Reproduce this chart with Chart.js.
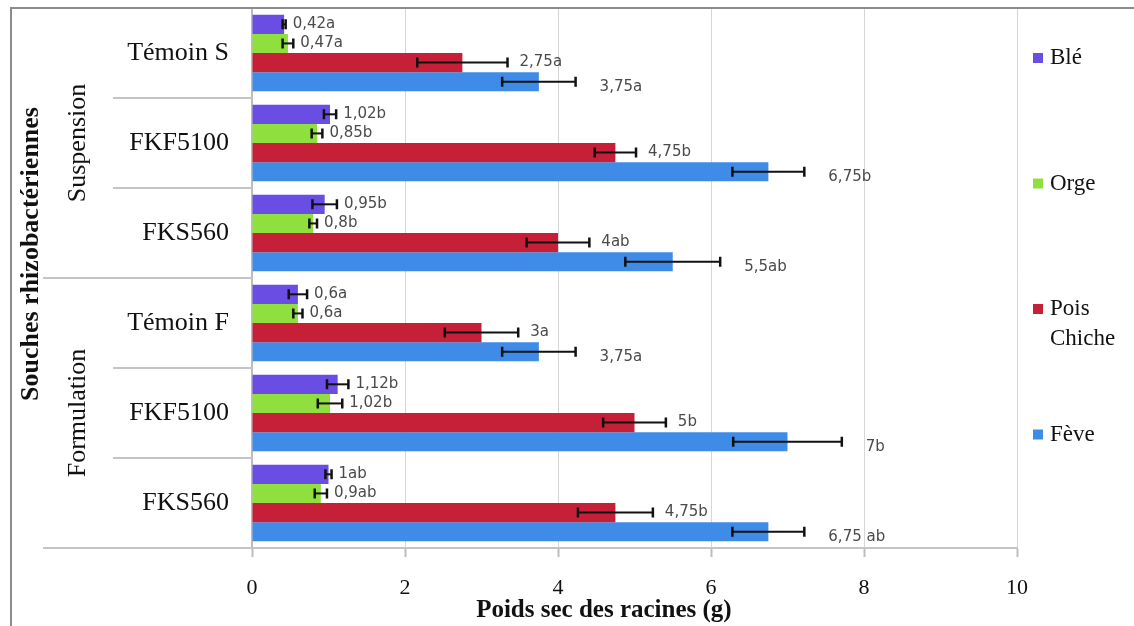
<!DOCTYPE html>
<html lang="fr">
<head>
<meta charset="utf-8">
<title>Poids sec des racines</title>
<script src="https://cdn.jsdelivr.net/npm/chart.js@4.4.1/dist/chart.umd.min.js"></script>
<style>
  html, body { margin: 0; padding: 0; background: #ffffff; }
  #wrap { width: 1134px; height: 626px; position: relative; }
</style>
</head>
<body>
<div id="wrap"><canvas id="chart" width="1134" height="626"></canvas></div>
<script>
// Souches (du haut vers le bas) et leur mode d'application
const categories = ['Témoin S', 'FKF5100', 'FKS560', 'Témoin F', 'FKF5100', 'FKS560'];
const groupNames = ['Suspension', 'Formulation'];
const groupSizes = [3, 3];
const seriesNames = ['Blé', 'Orge', 'Pois Chiche', 'Fève'];

// Poids sec moyen des racines (g)
const ble        = [0.42, 1.02, 0.95, 0.6, 1.12, 1];
const orge       = [0.47, 0.85, 0.8, 0.6, 1.02, 0.9];
const poisChiche = [2.75, 4.75, 4, 3, 5, 4.75];
const feve       = [3.75, 6.75, 5.5, 3.75, 7, 6.75];

// Écarts-types
const bleErr  = [0.02, 0.08, 0.16, 0.12, 0.14, 0.04];
const orgeErr = [0.07, 0.07, 0.05, 0.06, 0.16, 0.08];
const poisErr = [0.59, 0.27, 0.41, 0.48, 0.41, 0.49];
const feveErr = [0.48, 0.47, 0.62, 0.48, 0.71, 0.47];

// Groupes homogènes
const bleLetters  = ['a', 'b', 'b', 'a', 'b', 'ab'];
const orgeLetters = ['a', 'b', 'b', 'a', 'b', 'ab'];
const poisLetters = ['a', 'b', 'ab', 'a', 'b', 'b'];
const feveLetters = ['a', 'b', 'ab', 'a', 'b', ' ab'];

const xTicks = [0, 2, 4, 6, 8, 10];

const seriesValues  = [ble, orge, poisChiche, feve];
const seriesErrors  = [bleErr, orgeErr, poisErr, feveErr];
const seriesLetters = [bleLetters, orgeLetters, poisLetters, feveLetters];
const seriesColors  = ['#6a4ee4', '#8fe03e', '#c62039', '#3f8be8'];

const SERIF = "'Liberation Serif', 'DejaVu Serif', serif";
const SANS = "'DejaVu Sans', 'Liberation Sans', sans-serif";

const fmt = v => String(v).replace('.', ',');

// Cadre, séparateurs de l'axe des catégories et titres des axes
const framePlugin = {
  id: 'frame',
  afterDraw(chart) {
    const ctx = chart.ctx;
    const ca = chart.chartArea;
    const y = chart.scales.y;
    const x = chart.scales.x;
    ctx.save();

    // cadre extérieur
    ctx.strokeStyle = '#8c8c8c';
    ctx.lineWidth = 2;
    ctx.beginPath();
    ctx.moveTo(1134, 8);
    ctx.lineTo(11, 8);
    ctx.lineTo(11, 626);
    ctx.stroke();

    // séparateurs entre souches et entre groupes
    const half = (y.getPixelForValue(1) - y.getPixelForValue(0)) / 2;
    ctx.strokeStyle = '#c4c4c4';
    ctx.lineWidth = 2;
    let cum = 0;
    const groupEnds = groupSizes.map(n => (cum += n));
    for (let i = 1; i <= categories.length; i++) {
      const yy = Math.round(y.getPixelForValue(i - 1) + half);
      const isGroup = groupEnds.includes(i);
      ctx.beginPath();
      ctx.moveTo(isGroup ? 43 : 113, yy);
      ctx.lineTo(ca.left, yy);
      ctx.stroke();
    }

    // noms des groupes
    ctx.fillStyle = '#111';
    ctx.font = '26px ' + SERIF;
    ctx.textAlign = 'center';
    ctx.textBaseline = 'middle';
    let start = 0;
    groupNames.forEach((g, k) => {
      const end = start + groupSizes[k] - 1;
      const cy = (y.getPixelForValue(start) + y.getPixelForValue(end)) / 2;
      ctx.save();
      ctx.translate(78, cy);
      ctx.rotate(-Math.PI / 2);
      ctx.fillText(g, 0, 0);
      ctx.restore();
      start += groupSizes[k];
    });

    // titre de l'axe vertical
    ctx.save();
    ctx.font = 'bold 26px ' + SERIF;
    ctx.translate(31, (ca.top + ca.bottom) / 2 - 24);
    ctx.rotate(-Math.PI / 2);
    ctx.fillText('Souches rhizobactériennes', 0, 0);
    ctx.restore();

    // titre de l'axe horizontal
    ctx.font = 'bold 25px ' + SERIF;
    ctx.fillText('Poids sec des racines (g)', x.getPixelForValue(4.6), 611);

    ctx.restore();
  }
};

// Barres d'erreur et étiquettes de valeurs
const errorPlugin = {
  id: 'errorBars',
  afterDatasetsDraw(chart) {
    const ctx = chart.ctx;
    const x = chart.scales.x;
    const gaps = [7, 7, 12, 24];
    const shifts = [0, 0, 0, 5];
    ctx.save();
    chart.data.datasets.forEach((ds, d) => {
      const meta = chart.getDatasetMeta(d);
      meta.data.forEach((bar, i) => {
        const v = ds.data[i];
        const e = seriesErrors[d][i];
        const x0 = x.getPixelForValue(v - e);
        const x1 = x.getPixelForValue(v + e);
        const yy = bar.y;
        ctx.strokeStyle = '#111';
        ctx.lineWidth = 2;
        ctx.beginPath();
        ctx.moveTo(x0, yy);
        ctx.lineTo(x1, yy);
        ctx.stroke();
        ctx.lineWidth = 2.5;
        ctx.beginPath();
        ctx.moveTo(x0, yy - 5);
        ctx.lineTo(x0, yy + 5);
        ctx.moveTo(x1, yy - 5);
        ctx.lineTo(x1, yy + 5);
        ctx.stroke();

        ctx.fillStyle = '#4a4a4a';
        ctx.font = '15px ' + SANS;
        ctx.textAlign = 'left';
        ctx.textBaseline = 'middle';
        ctx.fillText(fmt(v) + seriesLetters[d][i], x1 + gaps[d], yy + shifts[d]);
      });
    });
    ctx.restore();
  }
};

// Légende verticale à droite
const legendPlugin = {
  id: 'sideLegend',
  afterDraw(chart) {
    const ctx = chart.ctx;
    ctx.save();
    ctx.font = '23px ' + SERIF;
    ctx.textAlign = 'left';
    ctx.textBaseline = 'middle';
    seriesNames.forEach((name, k) => {
      const cy = 58 + k * 125.5;
      ctx.fillStyle = seriesColors[k];
      ctx.fillRect(1033, cy - 5, 10, 10);
      ctx.fillStyle = '#111';
      const words = name.split(' ');
      words.forEach((w, j) => ctx.fillText(w, 1050, cy + j * 30));
    });
    ctx.restore();
  }
};

new Chart(document.getElementById('chart'), {
  type: 'bar',
  data: {
    labels: categories,
    datasets: seriesNames.map((name, k) => ({
      label: name,
      data: seriesValues[k],
      backgroundColor: seriesColors[k],
      borderWidth: 0,
      categoryPercentage: 0.85,
      barPercentage: 1.0
    }))
  },
  options: {
    indexAxis: 'y',
    responsive: false,
    animation: false,
    devicePixelRatio: 1,
    layout: { padding: { top: 8, right: 117, left: 0, bottom: 0 } },
    plugins: {
      legend: { display: false },
      tooltip: { enabled: false },
      title: { display: false }
    },
    scales: {
      x: {
        type: 'linear',
        min: 0,
        max: 10,
        afterBuildTicks(scale) {
          scale.ticks = xTicks.map(v => ({ value: v }));
        },
        afterFit(scale) {
          scale.height = 78;
          scale.paddingLeft = 0;
          scale.paddingRight = 0;
        },
        grid: {
          color: '#d6d6d6',
          lineWidth: 1,
          tickLength: 9,
          tickColor: '#bdbdbd',
          tickWidth: 2
        },
        border: { display: true, color: '#c4c4c4', width: 2 },
        ticks: {
          font: { family: SERIF, size: 22 },
          color: '#111',
          padding: 18
        }
      },
      y: {
        afterFit(scale) {
          scale.width = 252;
          scale.paddingTop = 0;
          scale.paddingBottom = 0;
        },
        grid: { display: true, drawOnChartArea: false, drawTicks: false },
        border: { display: true, color: '#bdbdbd', width: 2 },
        ticks: {
          font: { family: SERIF, size: 26 },
          color: '#111',
          padding: 23
        }
      }
    }
  },
  plugins: [framePlugin, errorPlugin, legendPlugin]
});
</script>
</body>
</html>
